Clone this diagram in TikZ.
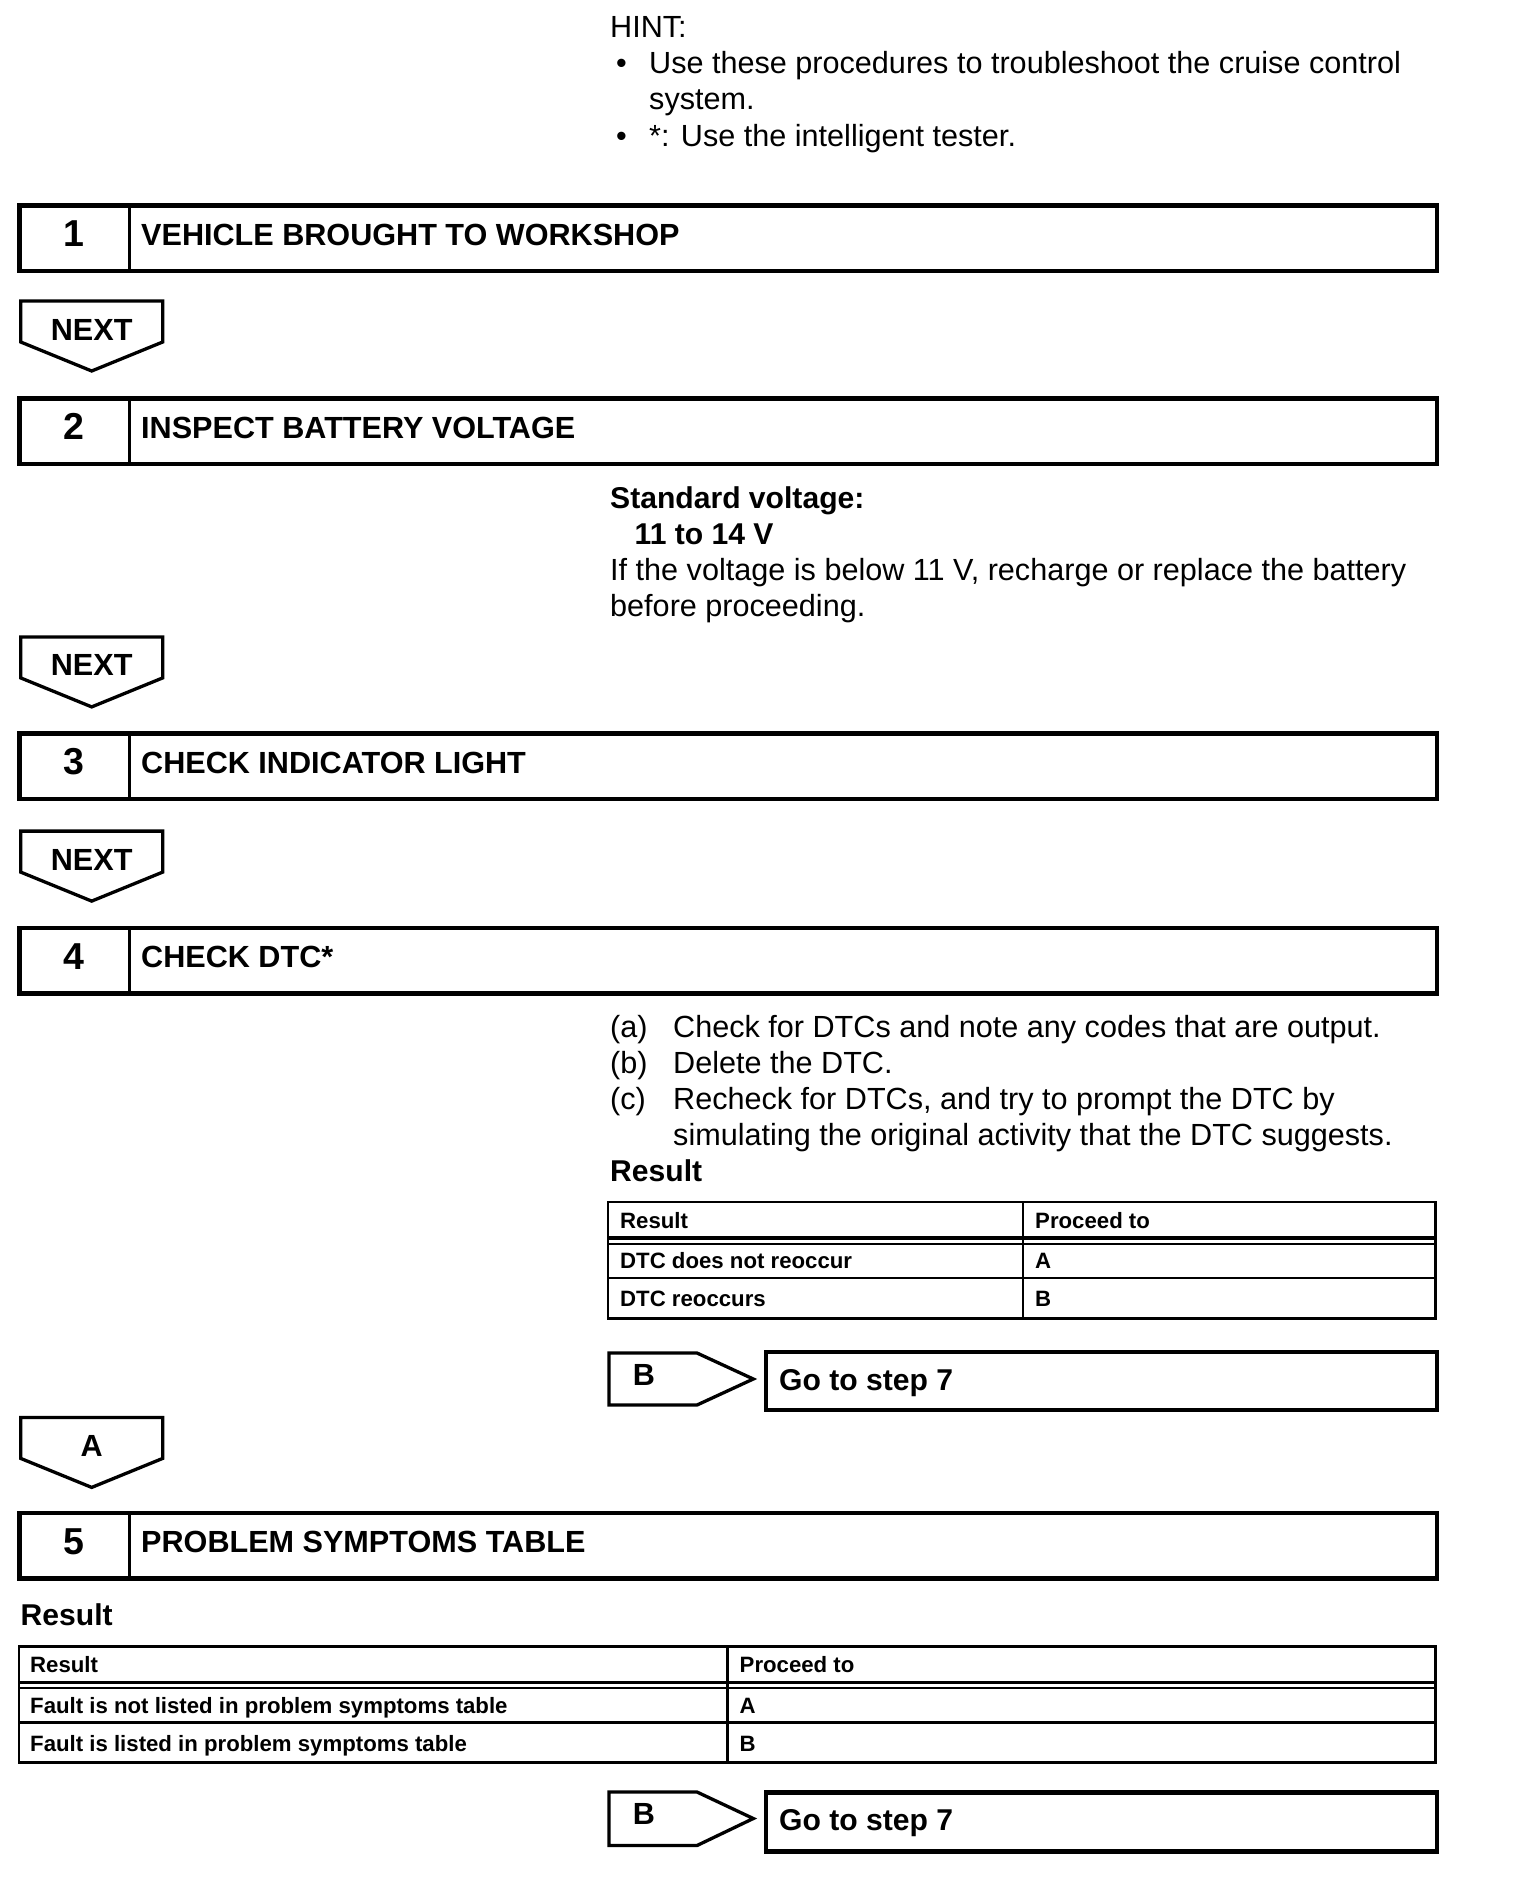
\documentclass[tikz,border=0pt]{standalone}
\usepackage{fontspec}
\setmainfont{Liberation Sans}
\begin{document}
\begin{tikzpicture}[x=1pt,y=-1pt,
  bx/.style={line width=4.2pt},
  dv/.style={line width=3.3pt},
  arr/.style={line width=3.3pt, line join=miter},
  tb/.style={line width=2.6pt},
  tthick/.style={line width=3.4pt},
  tthin/.style={line width=2pt},
  big/.style={font=\fontsize{30.6}{36}\selectfont, inner sep=0pt},
  bigb/.style={font=\fontsize{30.6}{36}\selectfont\bfseries, inner sep=0pt},
  midb/.style={font=\fontsize{30.1}{36}\selectfont\bfseries, inner sep=0pt},
  numb/.style={font=\fontsize{37.5}{42}\selectfont\bfseries, inner sep=0pt},
  small/.style={font=\fontsize{22.2}{26}\selectfont\bfseries, inner sep=0pt}]
\useasboundingbox[fill=white] (0,0) rectangle (1520,1892);

% HINT
\node[big,anchor=base west] (hint) at (610,37.5) {HINT:};
\node[big,anchor=base west] (hb1) at (616,73.8) {•};
\node[big,anchor=base west] (h1) at (649,73.8) {Use these procedures to troubleshoot the cruise control};
\node[big,anchor=base west] (h2) at (649,110) {system.};
\node[big,anchor=base west] (hb2) at (616,146.3) {•};
\node[big,anchor=base west] (h3) at (649,146.3) {*: Use the intelligent tester.};

% step boxes
\foreach \nm/\yy/\num/\ttl in {s1/205.5/1/VEHICLE BROUGHT TO WORKSHOP,
                               s2/398.5/2/INSPECT BATTERY VOLTAGE,
                               s3/733.5/3/CHECK INDICATOR LIGHT,
                               s4/928/4/CHECK DTC*,
                               s5/1513/5/PROBLEM SYMPTOMS TABLE}{
  \draw[bx] (19.5,\yy) rectangle (1437,{\yy+65.5});
  \draw[dv] (129.3,\yy) -- ++(0,65.5);
  \node[numb,anchor=base] (\nm n) at (74,{\yy+41.2}) {\num};
  \node[bigb,anchor=base west] (\nm t) at (141,{\yy+39.5}) {\ttl};
}

% down arrows
\foreach \nm/\yy/\lbl in {n1/301/NEXT, n2/636.9/NEXT, n3/831.1/NEXT, na/1417.4/A}{
  \draw[arr] (20.7,\yy) -- (162.7,\yy) -- (162.7,{\yy+41}) -- (91.7,{\yy+70}) -- (20.7,{\yy+41}) -- cycle;
  \node[bigb,anchor=base] (\nm) at (91.7,{\yy+39}) {\lbl};
}

% step 2 text
\node[midb,anchor=base west] (sv) at (610,508) {Standard voltage:};
\node[midb,anchor=base west] (sv2) at (634.5,544) {11 to 14 V};
\node[big,anchor=base west] (sv3) at (610,580) {If the voltage is below 11 V, recharge or replace the battery};
\node[big,anchor=base west] (sv4) at (610,616) {before proceeding.};

% step 4 text
\node[big,anchor=base west] (la) at (610,1037) {(a)};
\node[big,anchor=base west] (ta) at (673,1037) {Check for DTCs and note any codes that are output.};
\node[big,anchor=base west] (lb) at (610,1073) {(b)};
\node[big,anchor=base west] (tb) at (673,1073) {Delete the DTC.};
\node[big,anchor=base west] (lc) at (610,1109) {(c)};
\node[big,anchor=base west] (tc) at (673,1109) {Recheck for DTCs, and try to prompt the DTC by};
\node[big,anchor=base west] (tc2) at (673,1145) {simulating the original activity that the DTC suggests.};
\node[midb,anchor=base west] (r1) at (610,1181) {Result};

% table 1
\draw[tb] (608,1202) rectangle (1435.5,1318.5);
\draw[tthick] (608,1238) -- (1435.5,1238);
\draw[tthin] (608,1243.5) -- (1435.5,1243.5);
\draw[tb] (608,1278) -- (1435.5,1278);
\draw[tb] (1023,1202) -- (1023,1318.5);
\node[small,anchor=base west] (t1a) at (620,1228) {Result};
\node[small,anchor=base west] (t1b) at (1035,1228) {Proceed to};
\node[small,anchor=base west] (t1c) at (620,1268.5) {DTC does not reoccur};
\node[small,anchor=base west] (t1d) at (1035,1268.5) {A};
\node[small,anchor=base west] (t1e) at (620,1306.5) {DTC reoccurs};
\node[small,anchor=base west] (t1f) at (1035,1306.5) {B};

% B arrow 1
\draw[arr] (609,1353) -- (697,1353) -- (753.3,1379) -- (697,1405) -- (609,1405) -- cycle;
\node[bigb,anchor=base] (ba1) at (644,1385) {B};
\draw[bx] (766,1352) rectangle (1437,1410);
\node[midb,anchor=base west] (go1) at (779,1390) {Go to step 7};

% step 5 result
\node[midb,anchor=base west] (r2) at (20.5,1625) {Result};
\draw[tb] (19,1646.6) rectangle (1435.5,1762.6);
\draw[tthick] (19,1682.6) -- (1435.5,1682.6);
\draw[tthin] (19,1688.1) -- (1435.5,1688.1);
\draw[tb] (19,1722.6) -- (1435.5,1722.6);
\draw[tb] (727.4,1646.6) -- (727.4,1762.6);
\node[small,anchor=base west] (t2a) at (30,1672.6) {Result};
\node[small,anchor=base west] (t2b) at (739.5,1672.6) {Proceed to};
\node[small,anchor=base west] (t2c) at (30,1713) {Fault is not listed in problem symptoms table};
\node[small,anchor=base west] (t2d) at (739.5,1713) {A};
\node[small,anchor=base west] (t2e) at (30,1751) {Fault is listed in problem symptoms table};
\node[small,anchor=base west] (t2f) at (739.5,1751) {B};

% B arrow 2
\draw[arr] (609,1792) -- (697,1792) -- (753.3,1818.5) -- (697,1845.5) -- (609,1845.5) -- cycle;
\node[bigb,anchor=base] (ba2) at (644,1824.5) {B};
\draw[bx] (766,1792.5) rectangle (1437,1851.5);
\node[midb,anchor=base west] (go2) at (779,1830) {Go to step 7};
\end{tikzpicture}
\end{document}
